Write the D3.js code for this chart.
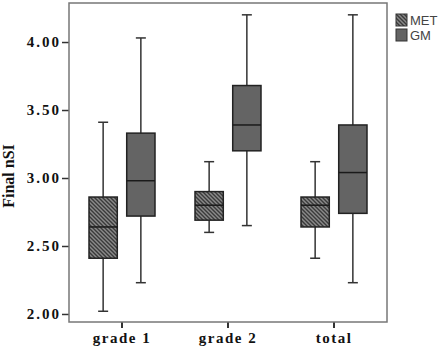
<!DOCTYPE html>
<html>
<head>
<meta charset="utf-8">
<script src="https://cdn.jsdelivr.net/npm/d3@7"></script>
<style>
  body { margin: 0; background: #fff; }
  svg { display: block; }
</style>
</head>
<body>
<div id="chart"></div>
<script>
const categories = ['grade 1', 'grade 2', 'total'];
const seriesNames = ['MET', 'GM'];
const yTicks = [2.0, 2.5, 3.0, 3.5, 4.0];

// [whisker low, Q1, median, Q3, whisker high]
const metStats = [
  [2.02, 2.41, 2.64, 2.86, 3.41],
  [2.60, 2.69, 2.80, 2.90, 3.12],
  [2.41, 2.64, 2.80, 2.86, 3.12],
];
const gmStats = [
  [2.23, 2.72, 2.98, 3.33, 4.03],
  [2.65, 3.20, 3.39, 3.68, 4.20],
  [2.23, 2.74, 3.04, 3.39, 4.20],
];

const width = 440;
const height = 347;
const plot = { left: 69, right: 387, top: 3, bottom: 322 };

const svg = d3.select('#chart').append('svg').attr('width', width).attr('height', height);

const defs = svg.append('defs');
const hatch = defs
  .append('pattern')
  .attr('id', 'hatch')
  .attr('patternUnits', 'userSpaceOnUse')
  .attr('width', 4)
  .attr('height', 4);
hatch.append('rect').attr('width', 4).attr('height', 4).attr('fill', '#8a8a8a');
hatch
  .append('path')
  .attr('d', 'M-1,-1 L5,5 M-1,3 L1,5 M3,-1 L5,1')
  .attr('stroke', '#3a3a3a')
  .attr('stroke-width', 1.4);

const fills = { MET: 'url(#hatch)', GM: '#646464' };

const x = d3.scaleBand().domain(categories).range([plot.left, plot.right]);
const xSub = d3.scaleBand().domain(seriesNames).range([-33, 33]).paddingInner(0.25);
const y = d3.scaleLinear().domain([1.941, 4.287]).range([plot.bottom, plot.top]);

const labelFont = (sel) =>
  sel
    .attr('fill', '#111')
    .style('font-family', '"Liberation Serif", serif')
    .style('font-weight', 'bold')
    .style('font-size', '15px')
    .style('letter-spacing', '2px');

// y axis
const yAxis = d3.axisLeft(y).tickValues(yTicks).tickFormat(d3.format('.2f')).tickSize(7).tickPadding(1);
const yg = svg.append('g').attr('transform', `translate(${plot.left},0)`).call(yAxis);
yg.select('.domain').remove();
yg.selectAll('.tick line').attr('stroke', '#333').attr('stroke-width', 1.5);
yg.selectAll('.tick text').call(labelFont);

// x axis
const xAxis = d3.axisBottom(x).tickSize(6).tickPadding(4);
const xg = svg.append('g').attr('transform', `translate(0,${plot.bottom})`).call(xAxis);
xg.select('.domain').remove();
xg.selectAll('.tick line').attr('stroke', '#333').attr('stroke-width', 2);
xg.selectAll('.tick text').call(labelFont).style('letter-spacing', '1.5px');

// frame
svg
  .append('rect')
  .attr('x', plot.left)
  .attr('y', plot.top)
  .attr('width', plot.right - plot.left)
  .attr('height', plot.bottom - plot.top)
  .attr('fill', 'none')
  .attr('stroke', '#777')
  .attr('stroke-width', 1.5);

// y label
svg
  .append('text')
  .attr('transform', 'translate(14,176) rotate(-90)')
  .attr('text-anchor', 'middle')
  .attr('fill', '#111')
  .style('font-family', '"Liberation Serif", serif')
  .style('font-weight', 'bold')
  .style('font-size', '16px')
  .text('Final nSI');

// boxes
const boxData = [];
categories.forEach((c, i) => {
  boxData.push({ cat: c, series: 'MET', s: metStats[i] });
  boxData.push({ cat: c, series: 'GM', s: gmStats[i] });
});

const capW = 10;
const boxes = svg
  .selectAll('g.box')
  .data(boxData)
  .join('g')
  .attr('class', 'box')
  .attr('transform', (d) => `translate(${x(d.cat) + x.bandwidth() / 2 + xSub(d.series)},0)`);

const bw = xSub.bandwidth();

boxes
  .append('line')
  .attr('x1', bw / 2)
  .attr('x2', bw / 2)
  .attr('y1', (d) => y(d.s[0]))
  .attr('y2', (d) => y(d.s[4]))
  .attr('stroke', '#333')
  .attr('stroke-width', 1.5);

boxes
  .selectAll('line.cap')
  .data((d) => [d.s[0], d.s[4]])
  .join('line')
  .attr('class', 'cap')
  .attr('x1', bw / 2 - capW / 2)
  .attr('x2', bw / 2 + capW / 2)
  .attr('y1', (v) => y(v))
  .attr('y2', (v) => y(v))
  .attr('stroke', '#333')
  .attr('stroke-width', 1.5);

boxes
  .append('rect')
  .attr('x', 0)
  .attr('width', bw)
  .attr('y', (d) => y(d.s[3]))
  .attr('height', (d) => y(d.s[1]) - y(d.s[3]))
  .attr('fill', (d) => fills[d.series])
  .attr('stroke', '#222')
  .attr('stroke-width', 1.5);

boxes
  .append('line')
  .attr('x1', 0)
  .attr('x2', bw)
  .attr('y1', (d) => y(d.s[2]))
  .attr('y2', (d) => y(d.s[2]))
  .attr('stroke', '#1a1a1a')
  .attr('stroke-width', 1.5);

// legend
const legend = svg
  .selectAll('g.legend')
  .data(seriesNames)
  .join('g')
  .attr('class', 'legend')
  .attr('transform', (d, i) => `translate(396,${14 + i * 15})`);

legend
  .append('rect')
  .attr('width', 11)
  .attr('height', 12)
  .attr('fill', (d) => fills[d])
  .attr('stroke', '#333')
  .attr('stroke-width', 1);

legend
  .append('text')
  .attr('x', 14)
  .attr('y', 11)
  .attr('fill', '#444')
  .style('font-family', '"Liberation Sans", Arial, sans-serif')
  .style('font-size', '13px')
  .text((d) => d);
</script>
</body>
</html>
